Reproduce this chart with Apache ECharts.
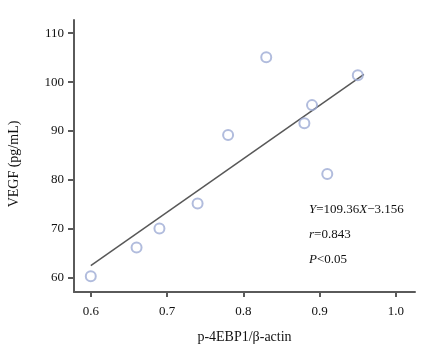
<!DOCTYPE html>
<html>
<head>
<meta charset="utf-8">
<script src="https://cdn.jsdelivr.net/npm/echarts@6/dist/echarts.min.js"></script>
<style>
  html, body { margin: 0; padding: 0; background: #fff; }
  #main { width: 438px; height: 351px; }
</style>
</head>
<body>
<div id="main"></div>
<script>
// 数据
const xValues = [0.60, 0.66, 0.69, 0.74, 0.78, 0.83, 0.88, 0.89, 0.91, 0.95];
const yValues = [60.3, 66.2, 70.1, 75.2, 89.2, 105.1, 91.6, 95.3, 81.2, 101.4];
// 回归线两端
const fitX = [0.6, 0.958];
const fitY = [62.5, 101.6];
const xTicks = [0.6, 0.7, 0.8, 0.9, 1.0];
const yTicks = [60, 70, 80, 90, 100, 110];

const font = '"Liberation Serif", "DejaVu Serif", serif';
const axisColor = '#5a5a5a';

let chart = echarts.init(document.getElementById('main'));

let option = {
  backgroundColor: '#ffffff',
  animation: false,
  grid: {
    left: 74,
    right: 23,
    top: 20,
    bottom: 59
  },
  xAxis: {
    type: 'value',
    min: 0.578,
    max: 1.025,
    name: 'p-4EBP1/β-actin',
    nameLocation: 'middle',
    nameGap: 38,
    nameTextStyle: { fontFamily: font, fontSize: 14, color: '#111' },
    splitLine: { show: false },
    axisLine: { onZero: false, lineStyle: { color: axisColor, width: 2 } },
    axisTick: {
      show: true,
      length: 5,
      lineStyle: { color: axisColor, width: 2 },
      customValues: xTicks
    },
    axisLabel: {
      fontFamily: font,
      fontSize: 13,
      color: '#111',
      margin: 13,
      customValues: xTicks,
      formatter: v => v.toFixed(1)
    }
  },
  yAxis: {
    type: 'value',
    min: 57.1,
    max: 112.7,
    splitLine: { show: false },
    axisLine: { onZero: false, lineStyle: { color: axisColor, width: 2 } },
    axisTick: {
      show: true,
      length: 6,
      lineStyle: { color: axisColor, width: 2 },
      customValues: yTicks
    },
    axisLabel: {
      fontFamily: font,
      fontSize: 13,
      color: '#111',
      margin: 10,
      customValues: yTicks
    }
  },
  series: [{
    type: 'line',
    data: fitX.map((x, i) => [x, fitY[i]]),
    symbol: 'none',
    lineStyle: { color: '#585858', width: 1.5 },
    z: 2
  }, {
    type: 'scatter',
    data: xValues.map((x, i) => [x, yValues[i]]),
    symbol: 'circle',
    symbolSize: 10,
    itemStyle: {
      color: 'rgba(255,255,255,0)',
      borderColor: '#9eabd4',
      borderWidth: 2
    },
    z: 3
  }],
  graphic: [{
    // 纵轴标题
    type: 'text',
    x: 14,
    y: 164,
    rotation: Math.PI / 2,
    style: {
      text: 'VEGF (pg/mL)',
      font: '14px ' + font,
      fill: '#111',
      align: 'center',
      verticalAlign: 'middle'
    }
  }, {
    type: 'text',
    left: 309,
    top: 197,
    style: {
      text: '{i|Y}=109.36{i|X}−3.156\n{i|r}=0.843\n{i|P}<0.05',
      font: '13px ' + font,
      fill: '#111',
      lineHeight: 25,
      rich: {
        i: { fontStyle: 'italic', fontFamily: font, fontSize: 13, fill: '#111' }
      }
    }
  }]
};

chart.setOption(option);
</script>
</body>
</html>
